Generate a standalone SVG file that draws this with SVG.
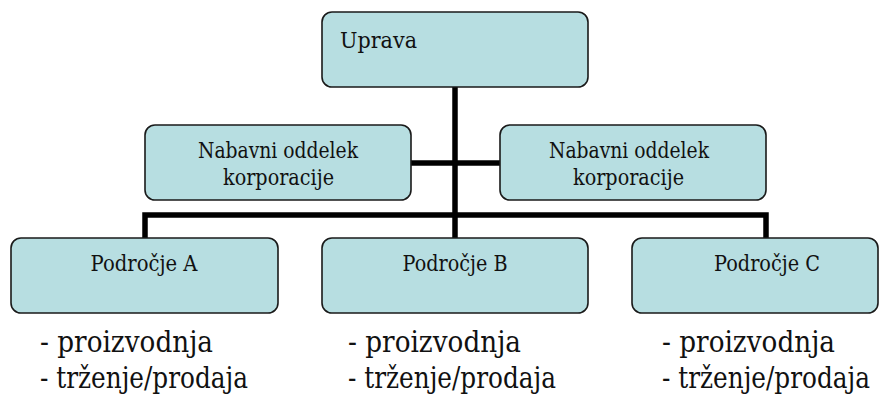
<svg xmlns="http://www.w3.org/2000/svg" width="886" height="401" viewBox="0 0 886 401">
  <style>
    .box { fill: #b7dee1; stroke: #1a1a1a; stroke-width: 1.6; }
    text { font-family: 'DejaVu Serif', 'Liberation Serif', serif; fill: #111; }
    .lbl { font-size: 21.5px; text-anchor: middle; }
    .top { font-size: 22.5px; }
    .item { font-size: 29px; }
    .wire { fill: none; stroke: #000; stroke-width: 5.5; stroke-linejoin: miter; }
  </style>

  <!-- connectors -->
  <g id="connectors">
    <path class="wire" d="M455 87 V215"/>
    <path class="wire" d="M411 163 H500"/>
    <path class="wire" d="M145 238 V215 H766 V238"/>
    <path class="wire" d="M455 215 V238"/>
  </g>

  <g id="uprava">
    <rect class="box" x="322" y="12" width="266" height="75" rx="10"/>
    <text class="top" x="340" y="48" textLength="77" lengthAdjust="spacingAndGlyphs">Uprava</text>
  </g>

  <g id="nabavni-levo">
    <rect class="box" x="145" y="125" width="266" height="75" rx="10"/>
    <text class="lbl" x="278" y="158" textLength="160" lengthAdjust="spacingAndGlyphs">Nabavni oddelek</text>
    <text class="lbl" x="278.5" y="185" textLength="111" lengthAdjust="spacingAndGlyphs">korporacije</text>
  </g>

  <g id="nabavni-desno">
    <rect class="box" x="500" y="125" width="266" height="75" rx="10"/>
    <text class="lbl" x="629" y="158" textLength="160" lengthAdjust="spacingAndGlyphs">Nabavni oddelek</text>
    <text class="lbl" x="628.5" y="185" textLength="111" lengthAdjust="spacingAndGlyphs">korporacije</text>
  </g>

  <g id="podrocje-a">
    <rect class="box" x="11" y="238" width="267" height="75" rx="10"/>
    <text class="lbl" x="144" y="271" textLength="107" lengthAdjust="spacingAndGlyphs">Področje A</text>
  </g>

  <g id="podrocje-b">
    <rect class="box" x="322" y="238" width="266" height="75" rx="10"/>
    <text class="lbl" x="455" y="271" textLength="105" lengthAdjust="spacingAndGlyphs">Področje B</text>
  </g>

  <g id="podrocje-c">
    <rect class="box" x="632" y="238" width="246" height="75" rx="10"/>
    <text class="lbl" x="767" y="271" textLength="106" lengthAdjust="spacingAndGlyphs">Področje C</text>
  </g>

  <!-- activity lists under each area -->
  <g id="seznam-a">
    <text class="item" x="40" y="352" textLength="173" lengthAdjust="spacingAndGlyphs">- proizvodnja</text>
    <text class="item" x="40" y="388" textLength="208" lengthAdjust="spacingAndGlyphs">- trženje/prodaja</text>
  </g>
  <g id="seznam-b">
    <text class="item" x="348" y="352" textLength="173" lengthAdjust="spacingAndGlyphs">- proizvodnja</text>
    <text class="item" x="348" y="388" textLength="208" lengthAdjust="spacingAndGlyphs">- trženje/prodaja</text>
  </g>
  <g id="seznam-c">
    <text class="item" x="662" y="352" textLength="173" lengthAdjust="spacingAndGlyphs">- proizvodnja</text>
    <text class="item" x="662" y="388" textLength="208" lengthAdjust="spacingAndGlyphs">- trženje/prodaja</text>
  </g>
</svg>
